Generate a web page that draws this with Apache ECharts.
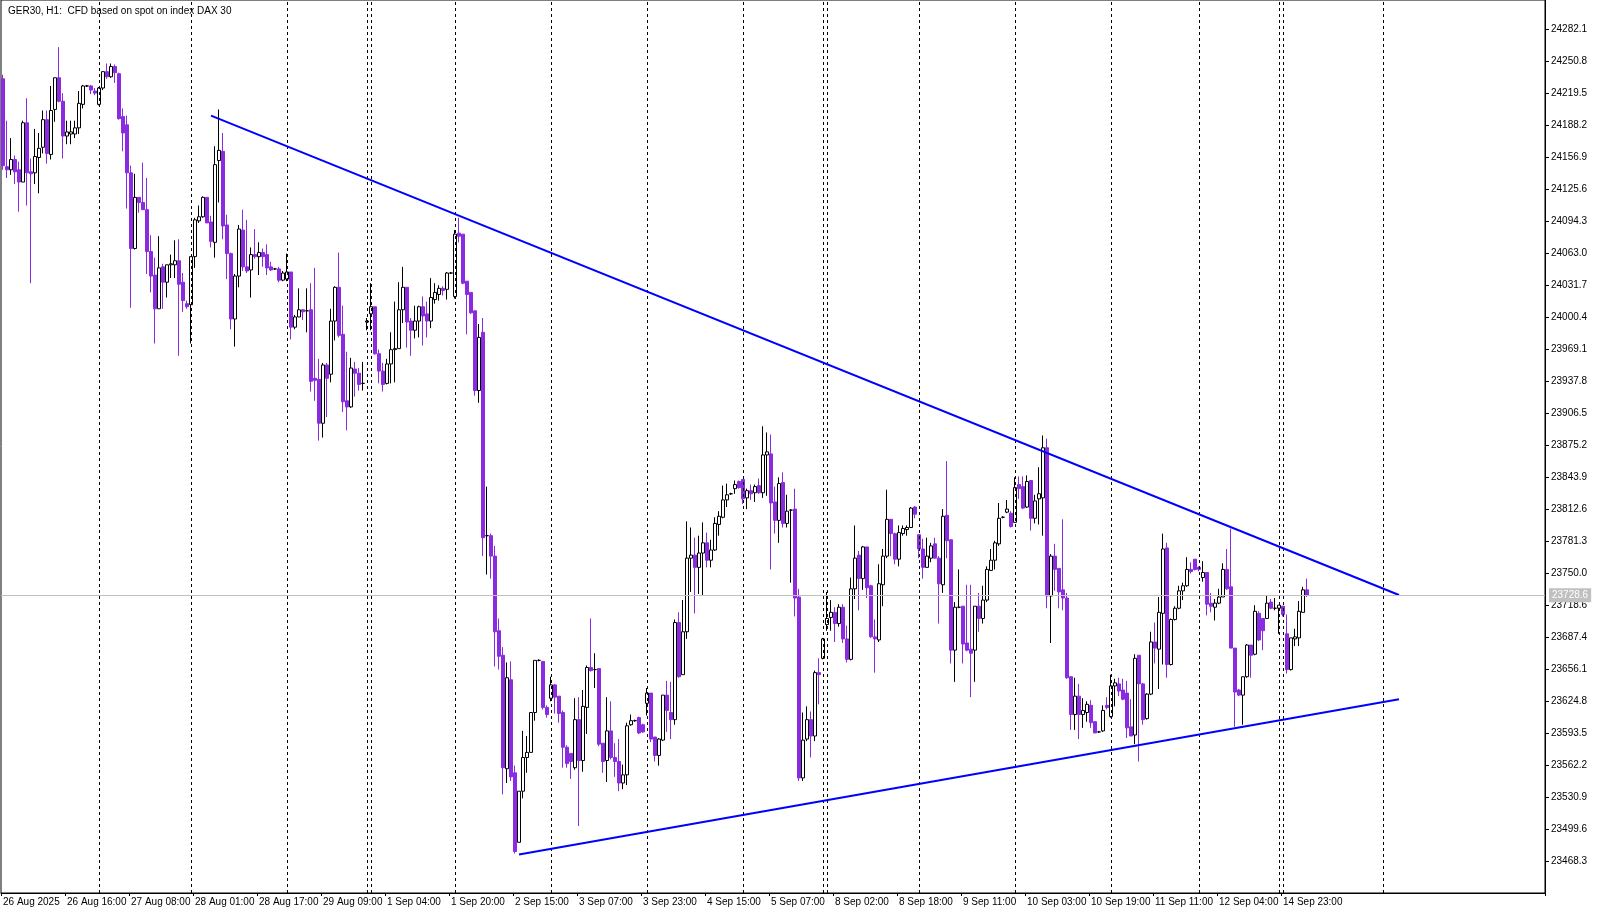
<!DOCTYPE html>
<html><head><meta charset="utf-8">
<script src="https://cdn.jsdelivr.net/npm/echarts@6.0.0/dist/echarts.min.js"></script>
<style>html,body{margin:0;padding:0;background:#fff}#c{width:1599px;height:915px}</style>
</head><body><div id="c"></div>
<script>
const xLabels=['26 Aug 2025','26 Aug 16:00','27 Aug 08:00','28 Aug 01:00','28 Aug 17:00','29 Aug 09:00','1 Sep 04:00','1 Sep 20:00','2 Sep 15:00','3 Sep 07:00','3 Sep 23:00','4 Sep 15:00','5 Sep 07:00','8 Sep 02:00','8 Sep 18:00','9 Sep 11:00','10 Sep 03:00','10 Sep 19:00','11 Sep 11:00','12 Sep 04:00','14 Sep 23:00'];
const yTicks=[24282.1,24250.8,24219.5,24188.2,24156.9,24125.6,24094.3,24063.0,24031.7,24000.4,23969.1,23937.8,23906.5,23875.2,23843.9,23812.6,23781.3,23750.0,23718.6,23687.4,23656.1,23624.8,23593.5,23562.2,23530.9,23499.6,23468.3];
const opens=[24234,24148,24145,24155,24145,24133,24191,24143,24142,24157,
24167,24194,24160,24204,24235,24212,24178,24180,24180,24186,
24209,24227,24227,24222,24209,24225,24241,24236,24246,24239,
24197,24189,24142,24068,24118,24113,24106,24065,24042,24009,
24050,24035,24052,24052,24056,24035,24014,24013,24060,24095,
24099,24118,24094,24074,24154,24163,24091,24063,23999,24041,
24086,24050,24047,24062,24060,24064,24062,24050,24048,24048,
24037,24038,24045,23991,24001,24008,24007,24008,23941,23940,
23897,23954,23945,23997,24030,23984,23919,23913,23950,23946,
23936,23996,24004,24011,23965,23948,23936,23955,23969,23970,
24008,24030,23997,23988,23997,24011,24004,23997,24018,24023,
24029,24028,24044,24021,24083,24082,24036,24025,24007,23929,
23986,23787,23787,23767,23694,23670,23559,23646,23555,23487,
23537,23570,23575,23614,23665,23664,23619,23628,23641,23630,
23614,23580,23574,23560,23607,23567,23619,23658,23656,23657,
23584,23567,23596,23570,23566,23545,23553,23602,23606,23609,
23602,23623,23633,23590,23572,23587,23631,23614,23607,23702,
23651,23693,23765,23768,23756,23770,23780,23763,23773,23798,
23805,23822,23828,23833,23840,23842,23824,23831,23829,23836,
23829,23866,23867,23820,23802,23839,23799,23812,23813,23727,
23550,23588,23607,23591,23653,23667,23700,23707,23712,23701,
23717,23686,23666,23735,23768,23745,23776,23738,23688,23685,
23739,23767,23803,23789,23764,23789,23793,23795,23815,23788,
23774,23756,23765,23779,23765,23739,23807,23783,23675,23717,
23718,23682,23676,23675,23718,23706,23724,23753,23763,23779,
23805,23810,23809,23800,23837,23835,23815,23841,23804,23823,
23824,23873,23728,23767,23755,23734,23726,23649,23612,23630,
23612,23614,23621,23605,23595,23596,23621,23610,23640,23642,
23636,23633,23600,23592,23670,23642,23608,23632,23683,23676,
23711,23775,23661,23705,23716,23733,23738,23754,23764,23756,
23746,23751,23721,23717,23721,23727,23754,23737,23677,23636,
23631,23649,23680,23671,23711,23706,23706,23722,23716,23716,
23718,23691,23656,23686,23687,23712,23734];
const closes=[24149,24145,24155,24143,24133,24191,24142,24141,24158,24166,
24194,24161,24203,24235,24212,24178,24182,24182,24186,24210,
24227,24227,24223,24220,24225,24241,24236,24246,24240,24195,
24181,24142,24068,24118,24113,24106,24065,24041,24009,24049,
24035,24052,24053,24056,24033,24017,24011,24060,24096,24099,
24118,24093,24075,24150,24164,24090,24063,23999,24041,24087,
24050,24046,24062,24060,24064,24060,24049,24047,24048,24037,
24044,24045,23991,24001,24008,24006,24007,23938,23939,23897,
23954,23941,23997,24030,23983,23918,23913,23951,23946,23935,
23936,23997,24011,23965,23948,23935,23955,23969,23970,24008,
24030,23996,23988,23997,24011,24002,23997,24020,24025,24029,
24027,24044,24044,24082,24080,24034,24023,24005,23929,23981,
23785,23787,23767,23693,23669,23560,23648,23551,23478,23537,
23570,23575,23614,23665,23665,23619,23612,23641,23629,23613,
23580,23564,23566,23607,23567,23620,23658,23655,23656,23583,
23566,23596,23570,23566,23545,23553,23601,23606,23606,23594,
23595,23633,23588,23572,23588,23631,23616,23607,23702,23649,
23693,23765,23768,23756,23770,23780,23763,23773,23799,23806,
23822,23827,23828,23837,23834,23823,23831,23828,23835,23829,
23866,23869,23819,23802,23838,23799,23811,23812,23726,23550,
23587,23607,23591,23653,23651,23686,23706,23712,23701,23717,
23686,23666,23735,23765,23745,23776,23736,23688,23686,23740,
23767,23803,23789,23764,23790,23794,23795,23814,23808,23774,
23756,23767,23777,23765,23740,23806,23782,23675,23717,23717,
23681,23675,23672,23718,23706,23724,23754,23763,23780,23804,
23805,23813,23796,23834,23833,23814,23840,23804,23821,23828,
23873,23728,23767,23754,23732,23726,23648,23612,23630,23612,
23616,23622,23604,23594,23595,23616,23619,23640,23643,23635,
23627,23599,23591,23667,23642,23607,23632,23683,23677,23712,
23774,23661,23705,23716,23733,23738,23754,23752,23754,23754,
23751,23720,23718,23721,23727,23754,23735,23677,23634,23631,
23649,23680,23670,23713,23685,23694,23721,23716,23716,23719,
23710,23656,23687,23688,23713,23734,23728.6];
const lows=[24145,24137,24140,24131,24104,24133,24110,24034,24131,24122,
24161,24151,24155,24192,24211,24156,24170,24170,24176,24180,
24205,24226,24219,24218,24208,24223,24234,24235,24230,24194,
24163,24107,24010,24067,24103,24106,24043,24025,23975,24009,
24009,24020,24039,24039,23963,24006,24009,23975,24049,24093,
24098,24093,24069,24059,24113,24077,24038,23989,23972,24030,
24046,24044,24020,24058,24042,24050,24042,24046,24047,24035,
24036,24036,23979,23989,24001,23998,23986,23928,23919,23880,
23883,23903,23937,23978,23981,23908,23890,23912,23923,23929,
23929,23988,23988,23964,23936,23928,23935,23936,23937,23970,
23995,23971,23963,23980,23981,23973,23981,23990,24014,24017,
24022,24018,24043,24019,24074,24033,23984,24004,23924,23917,
23767,23749,23745,23659,23656,23534,23545,23547,23476,23487,
23530,23555,23575,23606,23664,23617,23609,23625,23613,23604,
23560,23560,23549,23558,23503,23556,23593,23654,23638,23581,
23555,23546,23568,23551,23537,23539,23543,23601,23605,23593,
23594,23611,23585,23566,23562,23586,23595,23588,23602,23648,
23651,23686,23732,23711,23730,23729,23756,23756,23772,23787,
23804,23815,23827,23828,23833,23818,23813,23822,23820,23828,
23824,23826,23754,23789,23780,23795,23795,23741,23708,23547,
23547,23586,23570,23586,23622,23666,23694,23694,23683,23698,
23682,23663,23665,23725,23714,23734,23726,23687,23653,23683,
23718,23765,23767,23759,23757,23787,23787,23795,23804,23765,
23745,23756,23761,23765,23701,23731,23765,23662,23644,23716,
23662,23674,23629,23644,23693,23701,23722,23753,23754,23777,
23804,23809,23795,23800,23823,23813,23814,23792,23799,23798,
23787,23716,23682,23733,23716,23714,23647,23597,23597,23588,
23599,23605,23599,23594,23594,23595,23617,23609,23620,23630,
23626,23589,23591,23583,23566,23602,23607,23631,23662,23637,
23661,23648,23660,23704,23715,23724,23737,23750,23753,23752,
23742,23709,23712,23704,23720,23727,23734,23677,23600,23630,
23602,23648,23648,23670,23684,23675,23706,23715,23714,23691,
23708,23652,23655,23679,23679,23712,23727];
const highs=[24238,24193,24176,24159,24153,24193,24215,24156,24185,24181,
24203,24203,24227,24235,24265,24220,24193,24193,24193,24222,
24228,24228,24228,24225,24226,24241,24249,24249,24248,24240,
24205,24198,24149,24141,24118,24152,24137,24081,24059,24080,
24053,24052,24062,24076,24077,24044,24017,24060,24098,24110,
24119,24118,24100,24168,24204,24181,24101,24064,24043,24091,
24106,24096,24069,24087,24074,24068,24072,24055,24049,24050,
24046,24063,24045,24003,24029,24008,24029,24034,24049,23960,
23956,23956,24009,24031,24064,24012,23967,23961,23957,23951,
23957,24000,24034,24011,23969,23956,23960,23986,24016,24035,
24050,24030,24000,24012,24012,24021,24016,24039,24034,24032,
24031,24045,24045,24086,24098,24082,24036,24025,24007,23994,
24000,23835,23789,23777,23706,23678,23663,23664,23562,23537,
23596,23591,23614,23665,23666,23664,23621,23649,23642,23630,
23616,23582,23574,23628,23629,23636,23660,23706,23672,23657,
23584,23629,23625,23584,23588,23563,23604,23612,23607,23610,
23603,23638,23633,23590,23589,23631,23645,23644,23705,23712,
23724,23801,23795,23785,23787,23800,23790,23783,23805,23811,
23836,23838,23829,23841,23841,23842,23833,23837,23837,23843,
23894,23888,23886,23835,23844,23849,23827,23813,23833,23735,
23614,23620,23615,23655,23667,23687,23732,23724,23717,23720,
23720,23699,23746,23797,23772,23777,23776,23739,23705,23759,
23774,23832,23803,23790,23797,23797,23797,23815,23816,23788,
23784,23785,23780,23785,23767,23813,23860,23783,23722,23754,
23718,23739,23739,23718,23731,23738,23757,23774,23782,23819,
23806,23822,23811,23844,23845,23845,23846,23841,23827,23854,
23885,23882,23769,23779,23755,23803,23731,23649,23648,23642,
23628,23625,23626,23605,23596,23621,23629,23651,23647,23648,
23647,23645,23627,23671,23670,23643,23633,23693,23702,23727,
23789,23780,23706,23718,23738,23741,23766,23761,23764,23757,
23762,23751,23731,23725,23735,23760,23774,23794,23677,23637,
23649,23681,23680,23719,23713,23706,23728,23725,23726,23719,
23718,23710,23687,23696,23723,23737,23745];
const separators=[24,47,71,91,92,113,137,161,185,205,206,229,253,277,299,319,320,345];
const upperTrend=[[52,24198],[349,23729]];
const lowerTrend=[[129,23475],[349,23627]];
const lastPrice=23728.6;
const SLOTS=386;

const cats=[];for(let i=0;i<SLOTS;i++)cats.push(String(i));
const candles=opens.map((o,i)=>[o,closes[i],lows[i],highs[i]]);
const ml=[];
separators.forEach(s=>ml.push({xAxis:s,lineStyle:{color:'#000',type:[3,3],width:1}}));
ml.push([{coord:upperTrend[0],lineStyle:{color:'#0000ff',width:2,type:'solid'}},{coord:upperTrend[1]}]);
ml.push([{coord:lowerTrend[0],lineStyle:{color:'#0000ff',width:2,type:'solid'}},{coord:lowerTrend[1]}]);
ml.push({yAxis:lastPrice,lineStyle:{color:'#c0c0c0',width:1,type:'solid'},
  label:{show:true,position:'end',distance:4,formatter:'23728.6',color:'#fff',backgroundColor:'#c0c0c0',padding:[2,3],fontSize:10,fontFamily:'Liberation Sans'}});

const chart=echarts.init(document.getElementById('c'));
chart.setOption({
  animation:false,
  title:{text:'GER30, H1:  CFD based on spot on index DAX 30',left:3,top:1,textStyle:{fontSize:10,fontWeight:'normal',color:'#000',fontFamily:'Liberation Sans'}},
  grid:{left:1,right:54,top:0,bottom:22,show:true,borderColor:'#000',borderWidth:1,backgroundColor:'#fff'},
  xAxis:{type:'category',data:cats,boundaryGap:true,
    axisLine:{lineStyle:{color:'#000'}},
    axisTick:{show:true,length:3,interval:i=>i%16===0&&i/16<xLabels.length,lineStyle:{color:'#000'}},
    axisLabel:{interval:i=>i%16===0&&i/16<xLabels.length,formatter:(v,i)=>xLabels[i/16]||'',align:'left',margin:4,fontSize:10,color:'#000',fontFamily:'Liberation Sans'},
    splitLine:{show:false}},
  yAxis:{type:'value',position:'right',min:23437.4,max:24311.1,scale:true,
    axisLine:{show:true,lineStyle:{color:'#000'}},
    axisTick:{show:true,length:4,customValues:yTicks,lineStyle:{color:'#000'}},
    axisLabel:{customValues:yTicks,formatter:v=>v.toFixed(1),margin:6,fontSize:10,color:'#000',fontFamily:'Liberation Sans'},
    splitLine:{show:false}},
  series:[{type:'candlestick',data:candles,barWidth:3,
    itemStyle:{color:'#ffffff',borderColor:'#000000',color0:'#8a2be2',borderColor0:'#8a2be2',borderWidth:1},
    markLine:{silent:true,symbol:['none','none'],label:{show:false},animation:false,data:ml}}]
});
</script></body></html>
